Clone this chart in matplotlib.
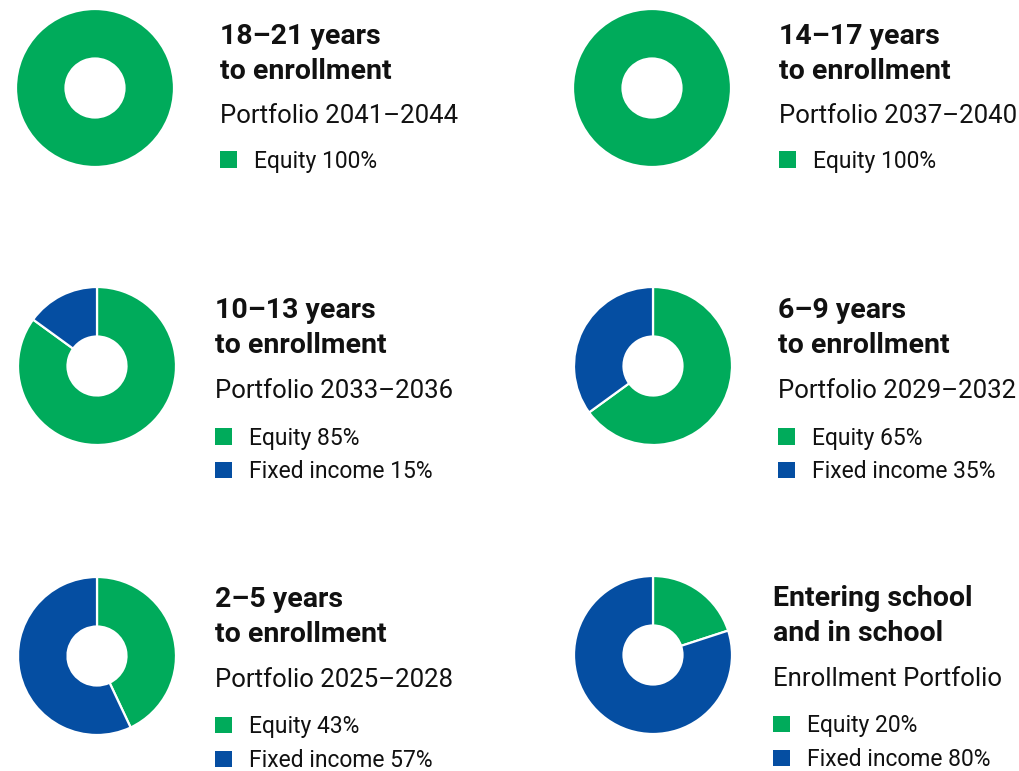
import matplotlib
matplotlib.use("Agg")
import matplotlib.pyplot as plt
from matplotlib.patches import Rectangle

# ---- data ----
titles = ["18–21 years\nto enrollment", "14–17 years\nto enrollment",
          "10–13 years\nto enrollment", "6–9 years\nto enrollment",
          "2–5 years\nto enrollment", "Entering school\nand in school"]
subtitles = ["Portfolio 2041–2044", "Portfolio 2037–2040",
             "Portfolio 2033–2036", "Portfolio 2029–2032",
             "Portfolio 2025–2028", "Enrollment Portfolio"]
series_names = ["Equity", "Fixed income"]
equity = [100, 100, 85, 65, 43, 20]
fixed_income = [0, 0, 15, 35, 57, 80]

GREEN = "#00AB5B"
BLUE = "#054EA2"
colors = [GREEN, BLUE]

W, H = 1019, 771
fig = plt.figure(figsize=(W / 100, H / 100), dpi=100)
fig.patch.set_facecolor("white")

FONT = ["Roboto", "DejaVu Sans"]

# layout (pixels)
centers = [(95, 88), (652, 88), (97, 366), (653, 366), (97, 656), (653, 655)]
R = 79
HOLE = 29.5
text_x = [220, 779, 215, 778, 215, 773]
# baseline offsets from donut center: title1, title2, subtitle, legend1, legend2
row_offsets = [(-44, -9, 35, 80, 114), (-48, -13, 32, 79, 112), (-49, -14, 31, 77, 111)]


def fx(x):
    return x / W


def fy(y):
    return 1 - y / H


for i in range(6):
    cx, cy = centers[i]
    ax = fig.add_axes([fx(cx - R), fy(cy + R), 2 * R / W, 2 * R / H])
    vals = [equity[i], fixed_income[i]]
    v = [x for x in vals if x > 0]
    c = [col for x, col in zip(vals, colors) if x > 0]
    ax.pie(v, colors=c, startangle=90, counterclock=False, radius=1,
           wedgeprops=dict(width=1 - HOLE / R, edgecolor="white", linewidth=1.6))
    ax.set_xlim(-1, 1)
    ax.set_ylim(-1, 1)
    ax.set_aspect("equal")
    ax.axis("off")

    offs = row_offsets[i // 2]
    tx = text_x[i]
    t1, t2 = titles[i].split("\n")
    fig.text(fx(tx), fy(cy + offs[0]), t1, fontsize=20.5, fontweight="semibold",
             family=FONT, color="#111111", va="baseline", ha="left")
    fig.text(fx(tx), fy(cy + offs[1]), t2, fontsize=20.5, fontweight="semibold",
             family=FONT, color="#111111", va="baseline", ha="left")
    fig.text(fx(tx), fy(cy + offs[2]), subtitles[i], fontsize=18.5,
             family=FONT, color="#111111", va="baseline", ha="left")
    k = 0
    for name, val, col in zip(series_names, vals, colors):
        if val <= 0:
            continue
        by = cy + offs[3 + k]
        fig.patches.append(Rectangle((fx(tx), fy(by)), 16.5 / W, 16.5 / H,
                                     transform=fig.transFigure, facecolor=col,
                                     edgecolor="none"))
        fig.text(fx(tx + 34), fy(by), f"{name} {val}%", fontsize=16.5,
                 family=FONT, color="#111111", va="baseline", ha="left")
        k += 1

fig.savefig("out.png", dpi=100, facecolor="white")
